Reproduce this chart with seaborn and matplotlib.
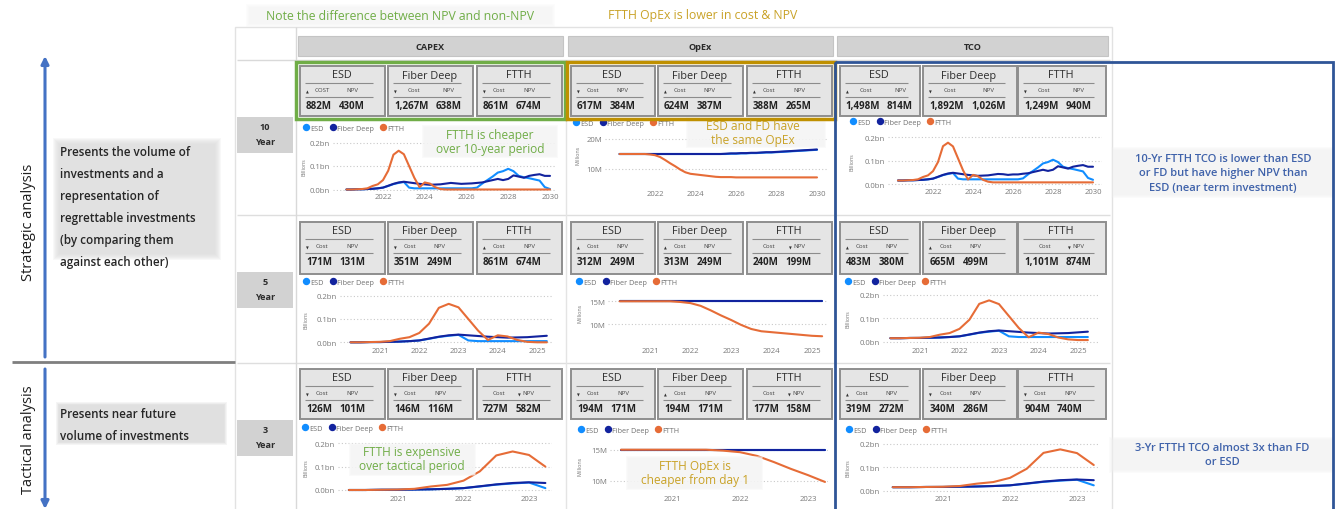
import numpy as np
import pandas as pd
import matplotlib
matplotlib.use("Agg")
import matplotlib.pyplot as plt
import seaborn as sns
from matplotlib.patches import Rectangle
from matplotlib.lines import Line2D

# ---------------- data ----------------
techs = ["ESD", "Fiber Deep", "FTTH"]
tech_colors = ["#118DFF", "#12239E", "#E66C37"]

# quarterly periods (decimal years)
periods_10y = np.arange(40) * 0.25 + 2020.25

# CAPEX per quarter (billions)
capex_esd = [0.000, 0.000, 0.001, 0.001, 0.002, 0.003, 0.005, 0.008, 0.015, 0.023,
             0.028, 0.032, 0.008, 0.005, 0.005, 0.005, 0.005, 0.005, 0.005, 0.005,
             0.005, 0.005, 0.005, 0.005, 0.005, 0.008, 0.025, 0.040, 0.055, 0.072,
             0.078, 0.088, 0.078, 0.058, 0.052, 0.048, 0.043, 0.038, 0.010, 0.002]
capex_fd = [0.000, 0.000, 0.001, 0.001, 0.002, 0.003, 0.005, 0.008, 0.016, 0.024,
            0.030, 0.033, 0.030, 0.027, 0.024, 0.022, 0.020, 0.021, 0.022, 0.025,
            0.028, 0.026, 0.024, 0.025, 0.026, 0.028, 0.030, 0.035, 0.040, 0.045,
            0.040, 0.045, 0.060, 0.055, 0.050, 0.058, 0.062, 0.065, 0.058, 0.058]
capex_ftth = [0.000, 0.000, 0.001, 0.002, 0.005, 0.015, 0.022, 0.040, 0.080, 0.148,
              0.165, 0.150, 0.100, 0.050, 0.010, 0.030, 0.025, 0.010, 0.002, 0.000,
              0.000, 0.000, 0.000, 0.000, 0.000, 0.000, 0.000, 0.000, 0.000, 0.000,
              0.000, 0.000, 0.000, 0.000, 0.000, 0.000, 0.000, 0.000, 0.000, 0.000]

# OpEx per quarter (millions)
opex_esd = [15.0, 15.0, 15.0, 15.0, 15.0, 15.0, 15.0, 15.0, 15.0, 15.0,
            15.0, 15.0, 15.0, 15.0, 15.0, 15.0, 15.0, 15.0, 15.0, 15.0,
            15.0, 15.0, 15.1, 15.1, 15.2, 15.2, 15.3, 15.3, 15.4, 15.5,
            15.5, 15.6, 15.7, 15.8, 15.9, 16.0, 16.1, 16.2, 16.3, 16.4]
opex_fd = [15.0, 15.0, 15.0, 15.0, 15.0, 15.0, 15.0, 15.0, 15.0, 15.0,
           15.0, 15.0, 15.0, 15.0, 15.0, 15.0, 15.0, 15.0, 15.0, 15.0,
           15.0, 15.1, 15.2, 15.2, 15.3, 15.3, 15.4, 15.4, 15.5, 15.6,
           15.6, 15.7, 15.8, 15.9, 16.0, 16.1, 16.2, 16.3, 16.4, 16.5]
opex_ftth = [15.0, 15.0, 15.0, 15.0, 15.0, 15.0, 14.85, 14.6, 14.0, 13.0,
             11.9, 10.9, 9.8, 8.9, 8.4, 8.2, 8.0, 7.8, 7.6, 7.4,
             7.3, 7.3, 7.3, 7.2, 7.2, 7.2, 7.2, 7.2, 7.2, 7.2,
             7.2, 7.2, 7.2, 7.2, 7.2, 7.2, 7.2, 7.2, 7.2, 7.2]

# TCO per quarter (billions)
tco_esd = [0.015, 0.015, 0.016, 0.016, 0.017, 0.018, 0.020, 0.023, 0.030, 0.038,
           0.043, 0.047, 0.023, 0.020, 0.020, 0.020, 0.020, 0.020, 0.020, 0.020,
           0.020, 0.020, 0.020, 0.020, 0.020, 0.024, 0.041, 0.056, 0.071, 0.088,
           0.094, 0.104, 0.094, 0.074, 0.068, 0.064, 0.059, 0.054, 0.026, 0.018]
tco_fd = [0.015, 0.015, 0.016, 0.016, 0.017, 0.018, 0.020, 0.023, 0.031, 0.039,
          0.045, 0.048, 0.045, 0.042, 0.039, 0.037, 0.035, 0.036, 0.037, 0.040,
          0.043, 0.042, 0.039, 0.041, 0.041, 0.044, 0.046, 0.051, 0.056, 0.061,
          0.056, 0.061, 0.076, 0.071, 0.066, 0.074, 0.078, 0.081, 0.074, 0.074]
tco_ftth = [0.015, 0.015, 0.016, 0.017, 0.020, 0.030, 0.037, 0.055, 0.094, 0.162,
            0.177, 0.161, 0.110, 0.059, 0.019, 0.039, 0.033, 0.018, 0.010, 0.007,
            0.007, 0.007, 0.007, 0.007, 0.007, 0.007, 0.007, 0.007, 0.007, 0.007,
            0.007, 0.007, 0.007, 0.007, 0.007, 0.007, 0.007, 0.007, 0.007, 0.007]

# KPI card values (ESD, Fiber Deep, FTTH)
capex_cost_10 = ["882M", "1,267M", "861M"]
capex_npv_10 = ["430M", "638M", "674M"]
opex_cost_10 = ["617M", "624M", "388M"]
opex_npv_10 = ["384M", "387M", "265M"]
tco_cost_10 = ["1,498M", "1,892M", "1,249M"]
tco_npv_10 = ["814M", "1,026M", "940M"]
capex_cost_5 = ["171M", "351M", "861M"]
capex_npv_5 = ["131M", "249M", "674M"]
opex_cost_5 = ["312M", "313M", "240M"]
opex_npv_5 = ["249M", "249M", "199M"]
tco_cost_5 = ["483M", "665M", "1,101M"]
tco_npv_5 = ["380M", "499M", "874M"]
capex_cost_3 = ["126M", "146M", "727M"]
capex_npv_3 = ["101M", "116M", "582M"]
opex_cost_3 = ["194M", "194M", "177M"]
opex_npv_3 = ["171M", "171M", "158M"]
tco_cost_3 = ["319M", "340M", "904M"]
tco_npv_3 = ["272M", "286M", "740M"]

column_titles = ["CAPEX", "OpEx", "TCO"]
horizon_labels = ["10", "5", "3"]

# ---------------- figure ----------------
sns.set_theme(style="white")
plt.rcParams['font.family'] = ['Open Sans', 'DejaVu Sans']
NOTE_FONT = ['Open Sans', 'DejaVu Sans']

W, H = 1337, 510
fig = plt.figure(figsize=(W / 100, H / 100), dpi=100)
fig.patch.set_facecolor("white")
renderer = fig.canvas.get_renderer()


def overlay(z):
    a = fig.add_axes([0, 0, 1, 1])
    a.set_xlim(0, W)
    a.set_ylim(H, 0)
    a.axis("off")
    a.set_zorder(z)
    a.patch.set_alpha(0)
    return a


ax_bg = overlay(0)
ax_fg = overlay(10)


def soft_rect(ax, x0, y0, x1, y1, color, alpha, spread=5, n=5, z=1):
    a = 1 - (1 - alpha) ** (1.0 / n)
    for k in range(n):
        e = spread * (1 - k / n)
        ax.add_patch(Rectangle((x0 - e, y0 - e), (x1 - x0) + 2 * e, (y1 - y0) + 2 * e,
                               fc=color, ec="none", alpha=a, zorder=z))


def hline(ax, x0, x1, y, color, lw, z=1):
    ax.plot([x0, x1], [y, y], color=color, lw=lw, zorder=z, solid_capstyle="butt")


def vline(ax, x, y0, y1, color, lw, z=1):
    ax.plot([x, x], [y0, y1], color=color, lw=lw, zorder=z, solid_capstyle="butt")


# ---- dashboard frame ----
ax_bg.add_patch(Rectangle((235, 28), 877, 500, fc="white", ec="#e2e2e2", lw=1, zorder=0.5))
hline(ax_bg, 237, 1110, 61, "#d9d9d9", 1)
hline(ax_bg, 237, 1110, 216, "#dedede", 1)
hline(ax_bg, 237, 1110, 364, "#dedede", 1)
vline(ax_bg, 296, 28, 510, "#d9d9d9", 1)
vline(ax_bg, 566, 61, 510, "#e4e4e4", 1)
vline(ax_bg, 835, 61, 510, "#e4e4e4", 1)

header_boxes = [(298, 265), (568, 265), (837, 271)]
for (hx, hw), title in zip(header_boxes, column_titles):
    ax_bg.add_patch(Rectangle((hx, 37), hw, 20, fc="#d2d2d2", ec="#c4c4c4", lw=0.8, zorder=2))
    ax_bg.text(hx + hw / 2, 47, title, ha="center", va="center", fontsize=6.6,
               fontweight="bold", color="#2b2b2b", zorder=3)

row_label_tops = [118, 273, 421]
for top, lab in zip(row_label_tops, horizon_labels):
    ax_bg.add_patch(Rectangle((237, top), 56, 36, fc="#d2d2d2", ec="none", zorder=2))
    ax_bg.text(265, top + 10, lab, ha="center", va="center", fontsize=6.6,
               fontweight="bold", color="#2b2b2b", zorder=3)
    ax_bg.text(265, top + 25, "Year", ha="center", va="center", fontsize=6.6,
               fontweight="bold", color="#2b2b2b", zorder=3)

# ---- KPI cards ----
card_cols = [[(300, 85), (388, 85), (477, 85)],
             [(571, 84), (658, 85), (747, 85)],
             [(840, 80), (923, 94), (1018, 88)]]
card_rows = [(67, 50), (223, 52), (370, 50)]
card_costs = [[capex_cost_10, opex_cost_10, tco_cost_10],
              [capex_cost_5, opex_cost_5, tco_cost_5],
              [capex_cost_3, opex_cost_3, tco_cost_3]]
card_npvs = [[capex_npv_10, opex_npv_10, tco_npv_10],
             [capex_npv_5, opex_npv_5, tco_npv_5],
             [capex_npv_3, opex_npv_3, tco_npv_3]]
# small sort indicators: (column 0=cost/1=npv, up?)
sort_marks = [[[(0, 1), (0, 0), (0, 0)], [(0, 0), (0, 1), (0, 1)], [(0, 1), (0, 0), (0, 0)]],
              [[(0, 0), (0, 0), (0, 1)], [(0, 1), (0, 1), (1, 0)], [(0, 1), (0, 1), (1, 0)]],
              [[(0, 0), (0, 0), (1, 0)], [(0, 0), (0, 1), (1, 0)], [(0, 1), (0, 0), (0, 0)]]]


def draw_card(x, y, w, h, title, cost, npv, cost_label, mark):
    ax_bg.add_patch(Rectangle((x, y), w, h, fc="#e5e5e5", ec="#8e8e8e", lw=1.4, zorder=2))
    ax_bg.text(x + w / 2 - 1, y + 9, title, ha="center", va="center", fontsize=7.8,
               color="#2e2e2e", zorder=3)
    for yy in (y + 16.5, y + 31):
        hline(ax_bg, x + 5, x + w - 12, yy, "#8c8c8c", 0.8, z=3)
    x0 = x + 0.07 * w
    t1 = ax_bg.text(x0, y + 39.5, cost, ha="left", va="center", fontsize=7.0,
                    fontweight="bold", color="#222222", zorder=3)
    bb = t1.get_window_extent(renderer)
    x1 = bb.x1 + 7
    t2 = ax_bg.text(x1, y + 39.5, npv, ha="left", va="center", fontsize=7.0,
                    fontweight="bold", color="#222222", zorder=3)
    bb2 = t2.get_window_extent(renderer)
    c_cost = (x0 + bb.x1) / 2 + 3
    c_npv = (bb2.x0 + bb2.x1) / 2
    ax_bg.text(c_cost, y + 23.5, cost_label, ha="center", va="center", fontsize=4.4,
               color="#444444", zorder=3)
    ax_bg.text(c_npv, y + 23.5, "NPV", ha="center", va="center", fontsize=4.4,
               color="#444444", zorder=3)
    col, up = mark
    mx = (x + 7) if col == 0 else (c_npv - 9)
    ax_bg.text(mx, y + 26, "▲" if up else "▼", ha="center", va="center", fontsize=2.6,
               color="#333333", zorder=3, family=["DejaVu Sans"])


for r, (cy, ch) in enumerate(card_rows):
    for c in range(3):
        for k, (cx, cw) in enumerate(card_cols[c]):
            lab = "COST" if (r == 0 and c == 0 and k == 0) else "Cost"
            draw_card(cx, cy, cw, ch, techs[k], card_costs[r][c][k], card_npvs[r][c][k],
                      lab, sort_marks[r][c][k])


# ---- line charts ----
def lin(pa, va, pb, vb, p):
    return va + (p - pa) * (vb - va) / (pb - pa)


def draw_chart(box, xmap, ymap, n, series, yticks, ylabels, xticks, ylabel, ylabel_px, legend_px):
    l, t, r, b = box
    ax = fig.add_axes([l / W, 1 - b / H, (r - l) / W, (b - t) / H])
    ax.set_zorder(5)
    ax.patch.set_alpha(0)
    periods = periods_10y[:n]
    df = pd.DataFrame({
        "period": np.tile(periods, 3),
        "value": np.concatenate([np.asarray(s[:n]) for s in series]),
        "tech": np.repeat(techs, n),
    })
    sns.lineplot(data=df, x="period", y="value", hue="tech", hue_order=techs,
                 palette=tech_colors, linewidth=1.5, legend=False, ax=ax)
    ax.set_xlim(lin(*xmap, l), lin(*xmap, r))
    ax.set_ylim(lin(*ymap, b), lin(*ymap, t))
    ax.set_xticks(xticks)
    ax.set_xticklabels([str(v) for v in xticks])
    ax.set_yticks(yticks)
    ax.set_yticklabels(ylabels)
    ax.tick_params(length=0, labelsize=5.6, labelcolor="#7a7a7a")
    ax.tick_params(axis="x", pad=1.5)
    ax.tick_params(axis="y", pad=2)
    for s in ax.spines.values():
        s.set_visible(False)
    ax.grid(False)
    ax.yaxis.grid(True, linestyle=(0, (1, 2)), color="#c9c9c9", linewidth=0.8)
    ax.set_xlabel("")
    ax.set_ylabel(ylabel, fontsize=3.8, color="#777777")
    pya, va, pyb, vb = ymap
    ymid = (lin(va, pya, vb, pyb, yticks[0]) + lin(va, pya, vb, pyb, yticks[-1])) / 2
    ax.yaxis.set_label_coords((ylabel_px - l) / (r - l), 1 - (ymid - t) / (b - t))
    handles = [Line2D([0], [0], marker="o", ls="", markersize=4.3, color=c) for c in tech_colors]
    ax.legend(handles, techs, loc="center left",
              bbox_to_anchor=(legend_px[0] / W, 1 - legend_px[1] / H),
              bbox_transform=fig.transFigure, ncol=3, frameon=False, fontsize=5.2,
              handletextpad=0.15, columnspacing=0.9, borderpad=0, borderaxespad=0,
              handlelength=0.8, labelcolor="#707070")
    return ax


bn_ticks = [0.0, 0.1, 0.2]
bn_labels = ["0.0bn", "0.1bn", "0.2bn"]
capex_series = [capex_esd, capex_fd, capex_ftth]
opex_series = [opex_esd, opex_fd, opex_ftth]
tco_series = [tco_esd, tco_fd, tco_ftth]
xt10 = [2022, 2024, 2026, 2028, 2030]
xt5 = [2021, 2022, 2023, 2024, 2025]
xt3 = [2021, 2022, 2023]

# row 1: 10 years
draw_chart((333, 133, 556, 192), (383, 2022, 550, 2030), (190.5, 0.0, 143.5, 0.2), 40,
           capex_series, bn_ticks, bn_labels, xt10, "Billions", 307, (303, 129))
draw_chart((605, 130, 828, 189), (655, 2022, 817, 2030), (170, 10, 140, 20), 40,
           opex_series, [10, 20], ["10M", "20M"], xt10, "Millions", 580, (573, 124))
draw_chart((888, 128, 1102, 187), (933, 2022, 1093, 2030), (185, 0.0, 138.3, 0.2), 40,
           tco_series, bn_ticks, bn_labels, xt10, "Billions", 855, (850, 123))
# row 2: 5 years
draw_chart((340, 290, 552, 346), (380, 2021, 537, 2025), (343.3, 0.0, 296.7, 0.2), 21,
           capex_series, bn_ticks, bn_labels, xt5, "Billions", 308, (303, 283))
draw_chart((608, 290, 828, 346), (650, 2021, 812, 2025), (325, 10, 302.3, 15), 21,
           opex_series, [10, 15], ["10M", "15M"], xt5, "Millions", 582, (576, 283))
draw_chart((883, 290, 1100, 346), (920, 2021, 1078, 2025), (342.7, 0.0, 296, 0.2), 21,
           tco_series, bn_ticks, bn_labels, xt5, "Billions", 850, (845, 283))
# row 3: 3 years
draw_chart((338, 438, 552, 494), (398, 2021, 529, 2023), (491, 0.0, 444.3, 0.2), 13,
           capex_series, bn_ticks, bn_labels, xt3, "Billions", 308, (302, 429))
draw_chart((610, 440, 828, 494), (672, 2021, 808, 2023), (481.7, 10, 450.7, 15), 13,
           opex_series, [10, 15], ["10M", "15M"], xt3, "Millions", 583, (578, 431))
draw_chart((883, 438, 1100, 494), (943, 2021, 1077, 2023), (491.7, 0.0, 445, 0.2), 13,
           tco_series, bn_ticks, bn_labels, xt3, "Billions", 850, (846, 431))

# ---- left side ----
ax_bg.annotate("", xy=(45, 57), xytext=(45, 358),
               arrowprops=dict(arrowstyle="-|>", color="#4472C4", lw=2.2, mutation_scale=11,
                               shrinkA=0, shrinkB=0), zorder=2)
ax_bg.annotate("", xy=(45, 510), xytext=(45, 370),
               arrowprops=dict(arrowstyle="-|>", color="#4472C4", lw=2.2, mutation_scale=11,
                               shrinkA=0, shrinkB=0), zorder=2)
hline(ax_bg, 12, 235, 363, "#7f7f7f", 2)
ax_bg.text(28, 222, "Strategic analysis", rotation=90, ha="center", va="center",
           fontsize=10.5, color="#1e1e1e", family=NOTE_FONT)
ax_bg.text(28, 440, "Tactical analysis", rotation=90, ha="center", va="center",
           fontsize=10.5, color="#1e1e1e", family=NOTE_FONT)

soft_rect(ax_bg, 60, 146, 214, 254, "#d8d8d8", 0.7, spread=7, n=7)
para1 = ["Presents the volume of", "investments and a", "representation of",
         "regrettable investments", "(by comparing them", "against each other)"]
for i, line in enumerate(para1):
    ax_bg.text(60, 152.5 + 22 * i, line, ha="left", va="center", fontsize=8.4,
               fontweight="semibold", color="#262626", family=NOTE_FONT, zorder=3)
soft_rect(ax_bg, 60, 407, 223, 442, "#d8d8d8", 0.75, spread=4, n=5)
for i, line in enumerate(["Presents near future", "volume of investments"]):
    ax_bg.text(60, 415 + 21.7 * i, line, ha="left", va="center", fontsize=8.4,
               fontweight="semibold", color="#262626", family=NOTE_FONT, zorder=3)

# ---- top notes ----
soft_rect(ax_bg, 250, 9, 551, 24, "#f0f0f0", 0.5, spread=4, n=4)
ax_bg.text(400, 16, "Note the difference between NPV and non-NPV", ha="center", va="center",
           fontsize=8.8, color="#70AD47", family=NOTE_FONT, zorder=3)
ax_bg.text(703, 16, "FTTH OpEx is lower in cost & NPV", ha="center", va="center",
           fontsize=8.8, color="#C9A227", family=NOTE_FONT, zorder=3)

# ---- right notes ----
soft_rect(ax_bg, 1115, 152, 1330, 195, "#f0f0f0", 0.6, spread=4, n=4)
for i, line in enumerate(["10-Yr FTTH TCO is lower than ESD", "or FD but have higher NPV than",
                          "ESD (near term investment)"]):
    ax_bg.text(1223, 159.5 + 14.5 * i, line, ha="center", va="center", fontsize=8,
               fontweight="semibold", color="#3F62AA", family=NOTE_FONT, zorder=3)
soft_rect(ax_bg, 1113, 442, 1330, 470, "#f0f0f0", 0.6, spread=4, n=4)
for i, line in enumerate(["3-Yr FTTH TCO almost 3x than FD", "or ESD"]):
    ax_bg.text(1222, 449 + 14 * i, line, ha="center", va="center", fontsize=8,
               fontweight="semibold", color="#3F62AA", family=NOTE_FONT, zorder=3)

# ---- highlight boxes ----
ax_fg.add_patch(Rectangle((296, 63), 269, 57, fc="none", ec="#70AD47", lw=2.5, zorder=5))
ax_fg.add_patch(Rectangle((567, 63), 268, 57, fc="none", ec="#BF9000", lw=2.5, zorder=5))
ax_fg.add_patch(Rectangle((835, 63), 498, 470, fc="none", ec="#2F5597", lw=2.0, zorder=5))

# ---- in-chart notes ----
notes = [
    (490, [136, 150], ["FTTH is cheaper", "over 10-year period"], "#70AD47", (425, 129, 555, 156)),
    (753, [127, 140.5], ["ESD and FD have", "the same OpEx"], "#C9A227", (689, 121, 823, 146)),
    (412, [453, 467], ["FTTH is expensive", "over tactical period"], "#70AD47", (352, 447, 473, 474)),
    (695, [467, 481], ["FTTH OpEx is", "cheaper from day 1"], "#C9A227", (629, 460, 760, 488)),
]
for cx, ys, lines, col, (bx0, by0, bx1, by1) in notes:
    soft_rect(ax_fg, bx0, by0, bx1, by1, "#f5f5f5", 0.88, spread=3, n=4, z=2)
    for yy, line in zip(ys, lines):
        ax_fg.text(cx, yy, line, ha="center", va="center", fontsize=8.6, color=col,
                   fontweight="medium", family=NOTE_FONT, zorder=6)

fig.savefig("out.png", dpi=100, facecolor="white")
